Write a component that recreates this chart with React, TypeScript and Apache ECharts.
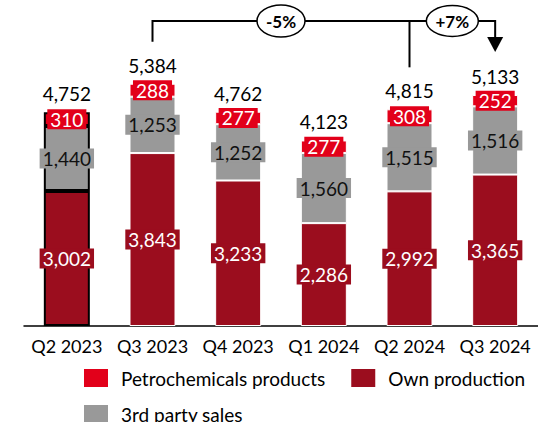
import React, { useEffect, useRef } from "react";
import * as echarts from "echarts";

const categories = ["Q2 2023", "Q3 2023", "Q4 2023", "Q1 2024", "Q2 2024", "Q3 2024"];
const ownProduction = [3002, 3843, 3233, 2286, 2992, 3365];
const thirdParty = [1440, 1253, 1252, 1560, 1515, 1516];
const petrochemicals = [310, 288, 277, 277, 308, 252];
const totals = [4752, 5384, 4762, 4123, 4815, 5133];
const changeLabels = ["-5%", "+7%"];

const FONT = "Lato";
const C_OWN = "#9b0d1e";
const C_THIRD = "#999999";
const C_PETRO = "#e2001a";

const fmt = (v: number) => v.toLocaleString("en-US");

function itemData(values: number[]) {
  return values.map((v, i) =>
    i === 0
      ? { value: v, itemStyle: { borderColor: "#000", borderWidth: 2 } }
      : { value: v }
  );
}

export default function App() {
  const ref = useRef<HTMLDivElement>(null);
  useEffect(() => {
    if (!ref.current) return;
    const chart = echarts.init(ref.current, undefined, { renderer: "svg" });
    const labelBase = {
      show: true,
      position: "inside",
      fontFamily: FONT,
      fontSize: 19,
      padding: [1, 3, 0, 3],
      formatter: (p: any) => fmt(p.value),
    };
    const legendText = { fontFamily: FONT, fontSize: 19, color: "#000", padding: [0, 0, 0, 7] };
    chart.setOption({
      animation: false,
      grid: { left: 24, right: -12, top: 11, bottom: 96 },
      xAxis: {
        type: "category",
        data: categories,
        axisLine: { show: true, lineStyle: { color: "#000", width: 1.5 } },
        axisTick: { show: false },
        axisLabel: { interval: 0, fontFamily: FONT, fontSize: 18, color: "#000", margin: 11 },
      },
      yAxis: { type: "value", min: 0, max: 7000, show: false, splitLine: { show: false } },
      legend: [
        {
          left: 82,
          top: 367,
          padding: 0,
          itemWidth: 26,
          itemHeight: 20,
          itemGap: 24,
          icon: "rect",
          data: ["Petrochemicals products", "Own production"],
          textStyle: legendText,
        },
        {
          left: 82,
          top: 403,
          padding: 0,
          itemWidth: 26,
          itemHeight: 20,
          icon: "rect",
          data: ["3rd party sales"],
          textStyle: legendText,
        },
      ],
      series: [
        {
          name: "Own production",
          type: "bar",
          stack: "a",
          barWidth: 46,
          barGap: "-100%",
          itemStyle: { color: C_OWN, borderColor: "#fff", borderWidth: 1 },
          label: { ...labelBase, color: "#fff", backgroundColor: C_OWN },
          data: itemData(ownProduction),
        },
        {
          name: "3rd party sales",
          type: "bar",
          stack: "a",
          barWidth: 46,
          barGap: "-100%",
          itemStyle: { color: C_THIRD, borderColor: "#fff", borderWidth: 1 },
          label: { ...labelBase, color: "#111", backgroundColor: C_THIRD },
          data: itemData(thirdParty),
        },
        {
          name: "Petrochemicals products",
          type: "bar",
          stack: "a",
          barWidth: 46,
          barGap: "-100%",
          itemStyle: { color: C_PETRO, borderColor: "#fff", borderWidth: 1 },
          label: { ...labelBase, color: "#fff", backgroundColor: C_PETRO },
          data: itemData(petrochemicals),
        },
        {
          name: "Total",
          type: "bar",
          barWidth: 46,
          barGap: "-100%",
          z: 1,
          itemStyle: { color: "transparent" },
          label: {
            show: true,
            position: "top",
            distance: 9,
            fontFamily: FONT,
            fontSize: 19,
            color: "#000",
            formatter: (p: any) => fmt(p.value),
          },
          data: totals,
        },
      ],
    });

    const px = (i: number) => chart.convertToPixel({ gridIndex: 0 }, [i, totals[i]]) as number[];
    const a = px(1);
    const b = px(4);
    const c = px(5);
    const lineY = 21;
    const stroke = { stroke: "#000", lineWidth: 2, fill: null };
    const e1x = (a[0] + b[0]) / 2;
    const e2x = (b[0] + c[0]) / 2;
    const pctText = (t: string, x: number) => ({
      type: "text",
      x,
      y: 21,
      z: 12,
      style: {
        text: t,
        fontFamily: FONT,
        fontWeight: "bold",
        fontSize: 17,
        fill: "#000",
        align: "center",
        verticalAlign: "middle",
      },
    });
    chart.setOption({
      graphic: [
        {
          type: "polyline",
          shape: { points: [[a[0], a[1] - 42], [a[0], lineY], [c[0], lineY], [c[0], 38]] },
          style: stroke,
          z: 10,
        },
        {
          type: "line",
          shape: { x1: b[0], y1: lineY, x2: b[0], y2: b[1] - 42 },
          style: stroke,
          z: 10,
        },
        {
          type: "polygon",
          shape: { points: [[c[0] - 8, 37], [c[0] + 8, 37], [c[0], 52]] },
          style: { fill: "#000" },
          z: 10,
        },
        {
          type: "ellipse",
          shape: { cx: e1x, cy: 21, rx: 24, ry: 16 },
          style: { fill: "#fff", stroke: "#000", lineWidth: 1.5 },
          z: 11,
        },
        {
          type: "ellipse",
          shape: { cx: e2x, cy: 21, rx: 26, ry: 15.5 },
          style: { fill: "#fff", stroke: "#000", lineWidth: 1.5 },
          z: 11,
        },
        pctText(changeLabels[0], e1x),
        pctText(changeLabels[1], e2x),
      ],
    });
    return () => chart.dispose();
  }, []);
  return (
    <div
      ref={ref}
      style={{ position: "fixed", left: 0, top: 0, width: 538, height: 422, background: "#fff" }}
    />
  );
}
